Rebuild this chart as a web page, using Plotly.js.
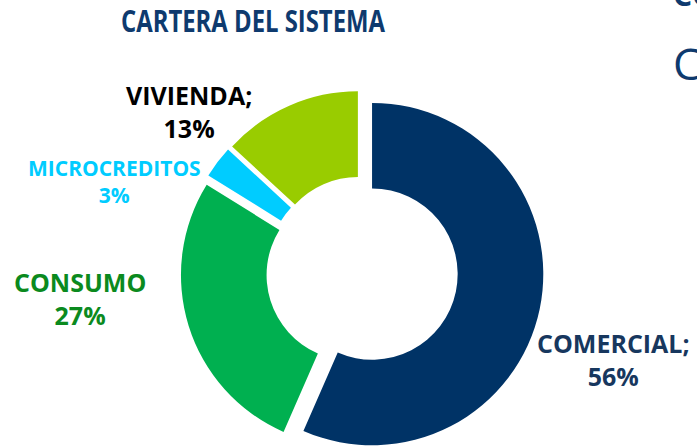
<!DOCTYPE html>
<html>
<head>
<meta charset="utf-8">
<script src="https://cdn.plot.ly/plotly-3.0.1.min.js"></script>
<style>
html,body{margin:0;padding:0;overflow:hidden;background:#fff;width:697px;height:446px;}
#chart{width:697px;height:460px;}
</style>
</head>
<body>
<div id="chart"></div>
<script>
const categories = ['COMERCIAL', 'CONSUMO', 'MICROCREDITOS', 'VIVIENDA'];
const values = [56, 27, 3, 13];
const labelNames = ['COMERCIAL;', 'CONSUMO', 'MICROCREDITOS', 'VIVIENDA;'];
const pctLabels = ['56%', '27%', '3%', '13%'];
const sliceColors = ['#003366', '#00B050', '#00CCFF', '#99CC00'];
const labelColors = ['#17375E', '#0B8A1E', '#00CCFF', '#000000'];

const W = 697, H = 460;
const FONT = '"Open Sans", sans-serif';
function px(x){ return x / W; }
function py(y){ return 1 - y / H; }

// [centre x, centre y, font size]
const labelPos = [
  [613, 359, 25],
  [80, 298, 25],
  [115, 181, 21],
  [189, 111, 25]
];

const annotations = categories.map((c, i) => {
  const p = labelPos[i];
  return {
    text: '<b>' + labelNames[i] + '<br>' + pctLabels[i] + '</b>', x: px(p[0]), y: py(p[1]),
    xref: 'paper', yref: 'paper', xanchor: 'center', yanchor: 'middle', align: 'center',
    showarrow: false, font: {family: FONT, size: p[2], color: labelColors[i]}
  };
});
// cropped text from neighbouring slide at right edge
annotations.push({text: 'CO', x: px(671), y: py(63), xref: 'paper', yref: 'paper',
  xanchor: 'left', yanchor: 'middle', showarrow: false,
  font: {family: FONT, size: 44, color: '#0E3A6E'}});
annotations.push({text: '<b>CO</b>', x: px(671), y: py(-6), xref: 'paper', yref: 'paper',
  xanchor: 'left', yanchor: 'middle', showarrow: false,
  font: {family: FONT, size: 30, color: '#0E3A6E'}});

const trace = {
  type: 'pie',
  labels: categories,
  values: values,
  sort: false,
  direction: 'clockwise',
  rotation: 0,
  hole: 0.5,
  pull: 0.06,
  textinfo: 'none',
  showlegend: false,
  marker: {colors: sliceColors, line: {width: 0}},
  domain: {x: [px(362 - 181.5), px(362 + 181.5)], y: [py(272 + 181.5), py(272 - 181.5)]}
};

const TITLE_X = 253;
const layout = {
  width: W, height: H,
  margin: {l: 0, r: 0, t: 0, b: 0},
  paper_bgcolor: '#ffffff',
  title: {text: '<b>CARTERA DEL SISTEMA</b>', x: px(TITLE_X), xanchor: 'center',
          y: py(21), yanchor: 'middle', xref: 'paper', yref: 'paper',
          font: {family: FONT, size: 31, color: '#0E3A6E'}},
  annotations: annotations
};

Plotly.newPlot('chart', [trace], layout, {displayModeBar: false, staticPlot: true}).then(() => {
  // the original title uses a condensed face: narrow the real text horizontally
  const t = document.querySelector('.gtitle');
  if (t) {
    t.setAttribute('transform', 'translate(' + TITLE_X + ',0) scale(0.77,1) translate(' + (-TITLE_X) + ',0)');
  }
});
</script>
</body>
</html>
